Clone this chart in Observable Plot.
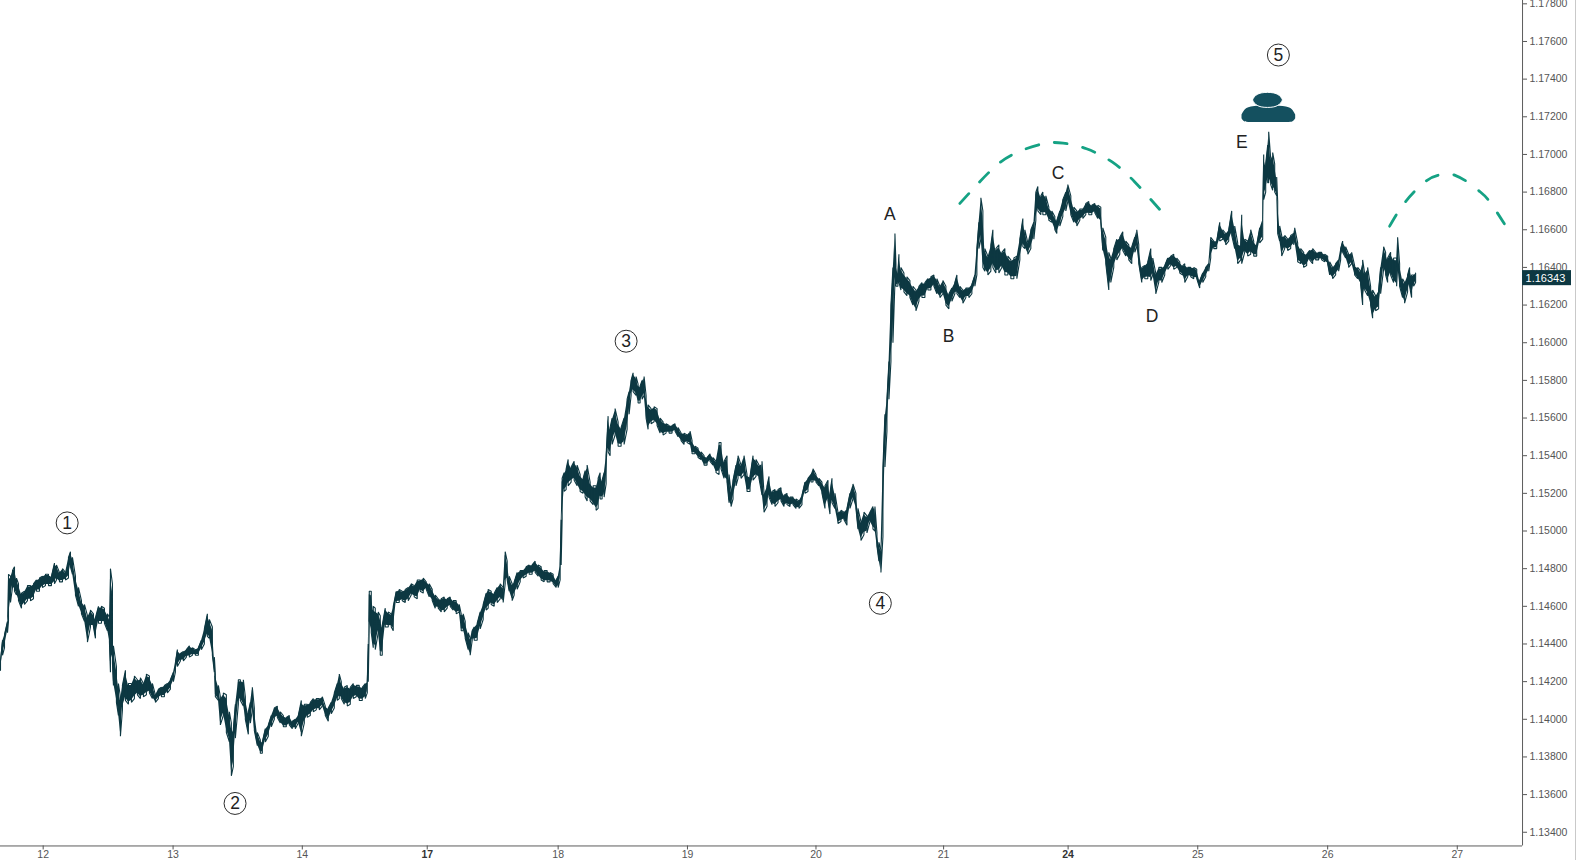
<!DOCTYPE html>
<html><head><meta charset="utf-8">
<script src="https://cdn.jsdelivr.net/npm/d3@7"></script>
<script src="https://cdn.jsdelivr.net/npm/@observablehq/plot@0.6"></script>
<style>
html,body{margin:0;padding:0;background:#fff}
#box{position:relative;width:1576px;height:860px;overflow:hidden;box-sizing:border-box;border-right:1px solid #c9c9c9}
svg{display:block}
</style></head><body><div id="box"></div>
<script>
// Rows: [bar, low, high]; prices are pips above 1.1000
const session11=[[0,426,431],[2,434,442],[4,438,445],[7,446,452],[8,452,477],[10,462,476],[12,470,479],[14,468,481],[16,466,475],[18,463,472],[21,459,467],[24,461,468],[27,463,471],[30,463,471],[33,464,472],[36,468,474],[39,468,475],[42,470,476]];
const session12=[[45,471,477],[48,471,477],[51,471,476],[54,472,483],[56,474,482],[59,473,478],[62,473,480],[65,474,478],[68,475,486],[70,481,489],[72,477,486],[75,466,476],[78,460,470],[81,456,463],[84,452,461],[87,441,455],[90,449,458],[93,449,456],[95,443,454],[98,451,460],[101,451,460],[104,451,459],[107,447,456],[109,441,454],[110,425,480],[112,430,472],[113,418,439],[116,409,428],[118,402,419],[120,391,412],[122,405,418],[125,410,426],[128,408,419],[131,409,419],[134,411,423],[137,413,421],[140,411,422],[143,412,419],[146,413,424],[149,414,423],[152,411,419],[155,409,413],[158,411,416],[161,412,417],[164,412,418],[167,414,419],[170,416,421]];
const session13=[[173,420,425],[175,425,430],[177,428,437],[180,431,435],[183,431,436],[186,433,437],[189,433,439],[192,434,438],[195,434,437],[198,434,438],[201,437,442],[204,440,448],[207,444,456],[209,443,453],[212,434,449],[214,425,433],[215,412,424],[218,410,418],[220,397,412],[223,402,414],[226,393,413],[229,388,404],[231,370,398],[233,375,395],[235,390,408],[238,408,421],[240,410,421],[243,407,421],[245,400,412],[248,392,404],[250,398,409],[252,405,417],[254,394,406],[257,386,393],[260,382,389],[262,382,388],[265,388,395],[268,391,397],[271,396,402],[274,400,406],[277,401,407],[280,398,404],[283,396,402],[286,396,401],[289,397,402],[292,395,399],[295,395,400],[298,398,402]];
const session14=[[301,391,410],[304,398,408],[307,401,408],[310,402,409],[313,404,411],[316,405,411],[319,405,411],[322,407,412],[325,402,407],[328,399,406],[331,403,409],[334,406,414],[337,410,419],[339,411,424],[341,411,420],[344,408,417],[347,407,418],[350,408,417],[353,411,419],[356,412,418],[359,410,418],[362,410,417],[365,411,419],[367,414,420],[368,420,440],[369,450,468],[371,446,468],[373,438,460],[375,437,459],[378,446,457],[380,434,455],[382,434,450],[385,449,459],[388,449,457],[391,449,456],[393,447,460],[396,462,468],[399,462,469],[402,463,468],[405,462,469],[408,463,470],[411,466,472],[414,465,471],[417,464,474],[420,468,474],[423,467,475]];
const session17=[[426,469,473],[429,465,472],[432,463,469],[435,459,466],[438,459,464],[441,457,464],[444,457,465],[447,459,464],[450,460,465],[453,458,463],[456,456,463],[459,457,461],[461,447,456],[463,447,456],[465,443,452],[468,437,446],[470,434,443],[472,442,447],[474,442,449],[477,442,451],[480,448,457],[483,453,461],[486,458,467],[488,459,469],[491,461,468],[494,460,467],[497,462,470],[500,464,472],[503,462,470],[505,472,489],[507,474,484],[509,468,476],[512,463,472],[514,466,473],[517,469,478],[520,473,479],[523,475,479],[526,476,481],[529,477,482],[532,477,482],[535,478,484],[538,476,482],[541,474,481],[544,473,479],[547,473,479],[550,473,478],[553,472,477],[556,470,474],[558,470,476],[560,474,482],[561,482,506],[562,506,528]];
const session18=[[564,521,531],[566,522,533],[568,524,538],[571,526,534],[574,527,537],[577,524,535],[580,521,530],[583,520,528],[585,518,532],[587,516,535],[590,516,526],[593,514,524],[596,511,524],[598,512,528],[600,517,531],[602,517,527],[604,518,531],[606,525,540],[608,542,561],[610,540,555],[612,546,560],[615,551,565],[618,545,558],[621,545,555],[624,546,560],[627,554,570],[629,562,574],[631,572,580],[633,574,584],[636,572,582],[638,568,578],[640,568,577],[642,570,580],[644,572,582],[646,560,572],[648,554,567],[651,557,565],[654,558,566],[657,556,565],[660,552,560],[663,551,558],[666,552,557],[669,552,556],[672,552,556],[675,553,557],[678,550,555],[681,548,552],[684,546,552],[687,547,551]];
const session19=[[690,546,553],[692,541,548],[695,541,545],[698,539,544],[701,538,542],[704,535,540],[707,535,539],[710,537,541],[713,535,539],[716,531,537],[719,530,547],[721,533,547],[724,528,537],[727,526,540],[729,515,530],[731,513,521],[733,517,527],[736,524,535],[738,528,540],[741,528,535],[744,530,540],[747,521,530],[750,521,529],[753,527,540],[756,529,538],[759,528,535],[762,519,537],[764,510,520],[767,513,524],[769,518,529],[772,514,521],[775,513,522],[778,515,522],[781,516,523],[784,513,519],[787,514,520],[790,513,518],[793,514,518],[796,512,517],[799,512,516],[802,514,519],[805,520,526],[808,521,528],[811,526,530]];
const session20=[[813,526,533],[816,526,530],[819,524,528],[822,520,526],[825,512,524],[828,516,527],[830,509,520],[832,515,528],[835,512,520],[838,504,510],[841,505,511],[844,506,510],[847,503,512],[850,512,520],[853,517,525],[856,512,520],[858,501,512],[861,495,505],[864,498,510],[867,499,508],[870,505,510],[873,501,513],[875,500,513],[877,492,499],[879,484,494],[881,478,490],[883,497,534],[885,534,562],[887,553,570],[889,570,590],[891,590,620],[893,600,640],[895,632,658],[896,630,642],[898,630,637],[899,632,647],[901,628,640],[904,627,637],[907,625,635],[910,624,633],[913,620,630],[916,617,628],[919,622,630],[922,624,632],[925,624,632],[928,628,634],[931,628,635],[934,630,636],[937,626,634],[940,624,630]];
const session21=[[943,626,633],[946,620,630],[949,618,626],[952,622,629],[955,626,632],[957,626,636],[960,624,630],[963,621,628],[966,624,629],[969,624,629],[972,626,631],[975,630,636],[977,636,650],[979,650,664],[981,655,677],[983,640,670],[985,638,650],[988,636,646],[991,638,652],[993,640,660],[996,637,650],[999,637,652],[1002,640,648],[1005,636,650],[1008,636,646],[1011,634,644],[1014,634,645],[1017,634,646],[1020,644,655],[1023,651,666],[1025,650,660],[1028,647,653],[1031,650,660],[1034,655,664],[1036,665,680],[1038,670,683],[1041,668,678],[1043,668,680],[1046,668,678],[1049,665,672],[1052,664,670],[1055,660,667],[1057,658,665],[1060,662,670],[1063,667,676],[1066,670,680]];
const session24=[[1068,675,684],[1071,668,678],[1074,664,672],[1077,662,670],[1080,665,671],[1083,666,671],[1086,668,674],[1089,668,675],[1092,668,673],[1095,669,674],[1098,666,673],[1101,664,672],[1103,649,661],[1106,642,656],[1109,628,648],[1111,632,645],[1114,640,650],[1117,644,655],[1120,647,656],[1123,649,659],[1126,646,654],[1129,644,652],[1132,642,651],[1135,648,656],[1137,651,660],[1139,642,652],[1142,632,640],[1145,634,641],[1148,634,643],[1151,633,650],[1153,636,645],[1156,626,637],[1159,632,640],[1162,632,640],[1165,636,641],[1168,639,645],[1171,641,646],[1174,639,647],[1177,640,645],[1180,637,643],[1183,636,641],[1185,632,642],[1188,635,640],[1191,635,640],[1194,634,640],[1197,634,639]];
const session25=[[1200,629,633],[1203,632,637],[1206,635,640],[1209,638,642],[1211,645,656],[1214,650,654],[1217,650,654],[1220,654,664],[1223,655,660],[1226,652,658],[1229,654,660],[1232,657,670],[1235,650,662],[1238,642,653],[1241,644,652],[1242,642,668],[1245,648,655],[1248,646,654],[1251,647,660],[1254,646,654],[1257,646,652],[1260,653,661],[1263,655,666],[1264,676,700],[1266,680,695],[1268,685,705],[1269,685,712],[1271,684,698],[1273,681,701],[1275,680,695],[1277,678,688],[1278,658,675],[1280,654,662],[1282,646,657],[1285,650,657],[1288,649,655],[1291,650,657],[1294,652,658],[1295,654,661],[1298,643,653],[1301,642,650],[1304,640,648],[1307,641,647],[1310,644,649],[1313,642,650],[1316,644,648],[1319,644,648],[1322,644,648],[1325,643,647]];
const session26=[[1328,642,646],[1330,636,643],[1333,634,640],[1336,636,642],[1339,638,644],[1341,644,650],[1343,648,654],[1346,645,651],[1349,640,647],[1352,642,648],[1355,636,641],[1358,634,640],[1361,631,638],[1363,620,644],[1365,628,637],[1368,625,640],[1371,620,630],[1373,613,628],[1376,617,625],[1379,618,628],[1381,626,640],[1384,639,651],[1386,636,648],[1388,632,645],[1391,636,648],[1394,632,645],[1397,630,645],[1398,640,656],[1400,630,642],[1403,624,634],[1405,621,632],[1408,627,636],[1410,630,640],[1412,624,636],[1414,630,636],[1416,632,637]];

const dayTicks=[42.7,172.7,302,427,558,687.4,816,943.7,1068.3,1198,1328,1457.7];
const dayLabels=["12","13","14","17","18","19","20","21","24","25","26","27"];
const boldDays=["17","24"];
const priceTicks=[1.134,1.136,1.138,1.14,1.142,1.144,1.146,1.148,1.15,1.152,1.154,1.156,1.158,1.16,1.162,1.164,1.166,1.168,1.17,1.172,1.174,1.176,1.178];
const lastPrice=1.16343;

const waveLabels=["1","2","3","4","5"];
const waveBars=[66.7,234.7,626,880.4,1278.7];
const wavePips=[504.3,355.3,600.8,461.6,752.8];
const legLabels=["A","B","C","D","E"];
const legBars=[890,948.7,1058.3,1152.3,1242];
const legPips=[668,603.5,690.2,614,706.6];

const arc1Bars=[960,990,1013,1041.7,1063.3,1086.7,1112.3,1135,1160];
const arc1Pips=[674,691,700,705.5,706,703,696,685.4,670.7];
const arc2Bars=[1390,1406,1426.7,1439,1447,1455,1467,1480,1490,1506];
const arc2Pips=[661.9,675,686,689,690,689,685.7,680.4,675,662.2];

const bodyBars=[1242.3,1245,1251.7,1269,1286.7,1293.3,1296];
const bodyLow=[719,717.4,717,717,717,717.4,719];
const bodyHigh=[721,723.4,725.2,725.9,725.2,723.4,721];
const headBars=[1253.3,1255,1258,1262,1268.3,1274.6,1278.6,1281.6,1283.3];
const headLow=[728.7,727.1,725.8,725,724.7,725,725.8,727.1,728.7];
const headHigh=[728.7,730.3,731.6,732.4,732.7,732.4,731.6,730.3,728.7];

const price=p=>1.1+p/10000;
const rows=[...session11,...session12,...session13,...session14,...session17,...session18,...session19,...session20,...session21,...session24,...session25,...session26];
const trace=rows.flatMap(([b,lo,hi],i)=>i%2
  ?[{b,p:price(hi)},{b,p:price(lo)}]
  :[{b,p:price(lo)},{b,p:price(hi)}]);
const ranges=rows.map(([b,lo,hi])=>({b,lo:price(lo+(hi-lo)*0.1),hi:price(hi-(hi-lo)*0.1)}));
const zip=(bars,pips)=>bars.map((b,i)=>({b,p:price(pips[i])}));
const band=(bars,lo,hi)=>bars.map((b,i)=>({b,lo:price(lo[i]),hi:price(hi[i])}));
const ink="#0d3842", teal="#15a284", icon="#14505f";
const font="'Liberation Sans',Arial,sans-serif";
const label=b=>dayLabels[dayTicks.indexOf(b)];

const chart=Plot.plot({
  width:1576,height:860,marginLeft:0,marginRight:53,marginTop:0,marginBottom:14,
  style:{fontFamily:font,background:"#fff"},
  x:{domain:[0,1523],axis:null},
  y:{domain:[1.133272,1.178176],axis:null},
  marks:[
    Plot.areaY(ranges,{x:"b",y1:"lo",y2:"hi",fill:ink}),
    Plot.line(trace,{x:"b",y:"p",stroke:ink,strokeWidth:1.1,strokeLinejoin:"miter"}),
    Plot.line(zip(arc1Bars,arc1Pips),{x:"b",y:"p",stroke:teal,strokeWidth:2.8,strokeDasharray:"13,16",curve:"natural"}),
    Plot.line(zip(arc2Bars,arc2Pips),{x:"b",y:"p",stroke:teal,strokeWidth:2.8,strokeDasharray:"13,16.4",curve:"natural"}),
    Plot.areaY(band(bodyBars,bodyLow,bodyHigh),{x:"b",y1:"lo",y2:"hi",fill:icon,curve:"natural"}),
    Plot.areaY(band(headBars,headLow,headHigh),{x:"b",y1:"lo",y2:"hi",fill:icon,stroke:"#fff",strokeWidth:1,curve:"natural"}),
    Plot.dot(waveBars,{x:d=>d,y:(d,i)=>price(wavePips[i]),r:11,fill:"#fff",stroke:"#2b2b2b",strokeWidth:1}),
    Plot.text(waveLabels,{x:(d,i)=>waveBars[i],y:(d,i)=>price(wavePips[i]),text:d=>d,fontSize:17.5,fill:"#222"}),
    Plot.text(legLabels,{x:(d,i)=>legBars[i],y:(d,i)=>price(legPips[i]),text:d=>d,fontSize:17.5,fill:"#222"}),
    Plot.ruleX([1523],{stroke:"#5a5a5a",strokeWidth:1}),
    Plot.ruleY([1.133272],{stroke:"#5a5a5a",strokeWidth:1}),
    Plot.axisY(priceTicks,{anchor:"right",label:null,tickSize:4,tickPadding:3,fontSize:10.5,color:"#555",stroke:"#555",tickFormat:d=>d.toFixed(5)}),
    Plot.axisX(dayTicks.filter(b=>!boldDays.includes(label(b))),{anchor:"bottom",label:null,tickSize:4,tickPadding:1,fontSize:10.5,color:"#555",stroke:"#555",tickFormat:label}),
    Plot.axisX(dayTicks.filter(b=>boldDays.includes(label(b))),{anchor:"bottom",label:null,tickSize:4,tickPadding:1,fontSize:10.5,fontWeight:"bold",color:"#333",stroke:"#555",tickFormat:label}),
    Plot.rect([lastPrice],{x1:1523,x2:1572,y1:d=>d-0.0004,y2:d=>d+0.0004,fill:ink}),
    Plot.text([lastPrice],{x:1526,y:d=>d,text:d=>d.toFixed(5),fill:"#fff",fontSize:11,textAnchor:"start"})
  ]
});
document.getElementById("box").append(chart);
</script></body></html>
